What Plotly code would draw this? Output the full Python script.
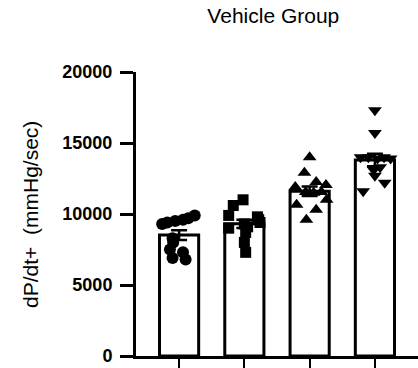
import numpy as np
import plotly.graph_objects as go

# Individual measurements per group (dP/dt+, mmHg/sec)
group1 = [9300, 9400, 9500, 9600, 9700, 9900, 8300, 8000, 7500, 7300, 6900, 6800]
group2 = [11000, 10600, 9800, 9000, 9900, 9400, 9300, 9100, 8000, 8700, 9600, 7300]
group3 = [14000, 12900, 12250, 11900, 12050, 11550, 11500, 11550, 10650, 11000, 10300, 9600]
group4 = [17300, 15700, 14000, 14000, 13900, 14000, 13900, 13100, 12700, 12200, 11600, 13300]

# Horizontal spread of the points within each column (category units)
spread1 = [-0.26, -0.18, -0.06, 0.06, 0.14, 0.24, -0.10, -0.09, -0.14, 0.06, -0.10, 0.10]
spread2 = [-0.02, -0.17, 0.20, -0.24, -0.24, 0.24, 0.00, 0.05, 0.00, 0.02, 0.22, 0.02]
spread3 = [0.00, -0.08, 0.10, -0.22, 0.25, -0.06, 0.06, 0.18, -0.20, 0.26, 0.10, -0.05]
spread4 = [0.00, 0.00, -0.22, -0.10, 0.04, 0.14, 0.24, -0.02, 0.00, 0.15, -0.18, 0.08]

groups = [group1, group2, group3, group4]
spreads = [spread1, spread2, spread3, spread4]
symbols = ["circle", "square", "triangle-up", "triangle-down"]
sizes = [12, 11, 12, 12]

y_ticks = [0, 5000, 10000, 15000, 20000]

positions = list(range(len(groups)))
means = [float(np.mean(g)) for g in groups]
sems = [float(np.std(g, ddof=1) / np.sqrt(len(g))) for g in groups]

font_family = "Arial, Liberation Sans, sans-serif"

fig = go.Figure()

# Mean bars: white fill, heavy black outline
fig.add_trace(go.Bar(
    x=positions, y=means, width=0.6,
    marker=dict(color="white", line=dict(color="black", width=3)),
    showlegend=False, hoverinfo="skip",
))

# SEM error bars
fig.add_trace(go.Scatter(
    x=positions, y=means, mode="markers",
    marker=dict(size=1, color="rgba(0,0,0,0)"),
    error_y=dict(type="data", array=sems, color="black", thickness=2.5, width=8),
    showlegend=False, hoverinfo="skip",
))

# Individual points
for pos, vals, offs, sym, sz in zip(positions, groups, spreads, symbols, sizes):
    fig.add_trace(go.Scatter(
        x=[pos + o for o in offs], y=vals, mode="markers",
        marker=dict(symbol=sym, size=sz, color="black", line=dict(width=0)),
        showlegend=False,
    ))

fig.update_layout(
    width=418, height=368,
    margin=dict(l=136, r=0, t=72, b=12),
    plot_bgcolor="white", paper_bgcolor="white",
    font=dict(family=font_family, color="black"),
    title=dict(text="Vehicle Group", x=0.487, xref="paper", y=1 - 16 / 368,
               yref="container", yanchor="middle", xanchor="center",
               font=dict(size=21, family=font_family, color="black")),
    xaxis=dict(range=[-0.66, 3.66], tickvals=positions, ticktext=["", "", "", ""],
               showline=True, linecolor="black", linewidth=3,
               ticks="outside", ticklen=11, tickwidth=2, tickcolor="black",
               showgrid=False, zeroline=False, fixedrange=True),
    yaxis=dict(range=[0, 20000], tickvals=y_ticks, ticktext=[str(v) for v in y_ticks],
               showline=True, linecolor="black", linewidth=3,
               ticks="outside", ticklen=13, tickwidth=3, tickcolor="black",
               tickfont=dict(size=18, family=font_family, color="black", weight="bold"),
               ticklabelstandoff=4,
               showgrid=False, zeroline=False, fixedrange=True),
    annotations=[dict(text="dP/dt+  (mmHg/sec)", textangle=-90, x=-0.376, xref="paper",
                      y=0.5, yref="paper", xanchor="center", yanchor="middle",
                      showarrow=False, font=dict(size=21, family=font_family, color="black"))],
)

fig.write_html("out.html")
